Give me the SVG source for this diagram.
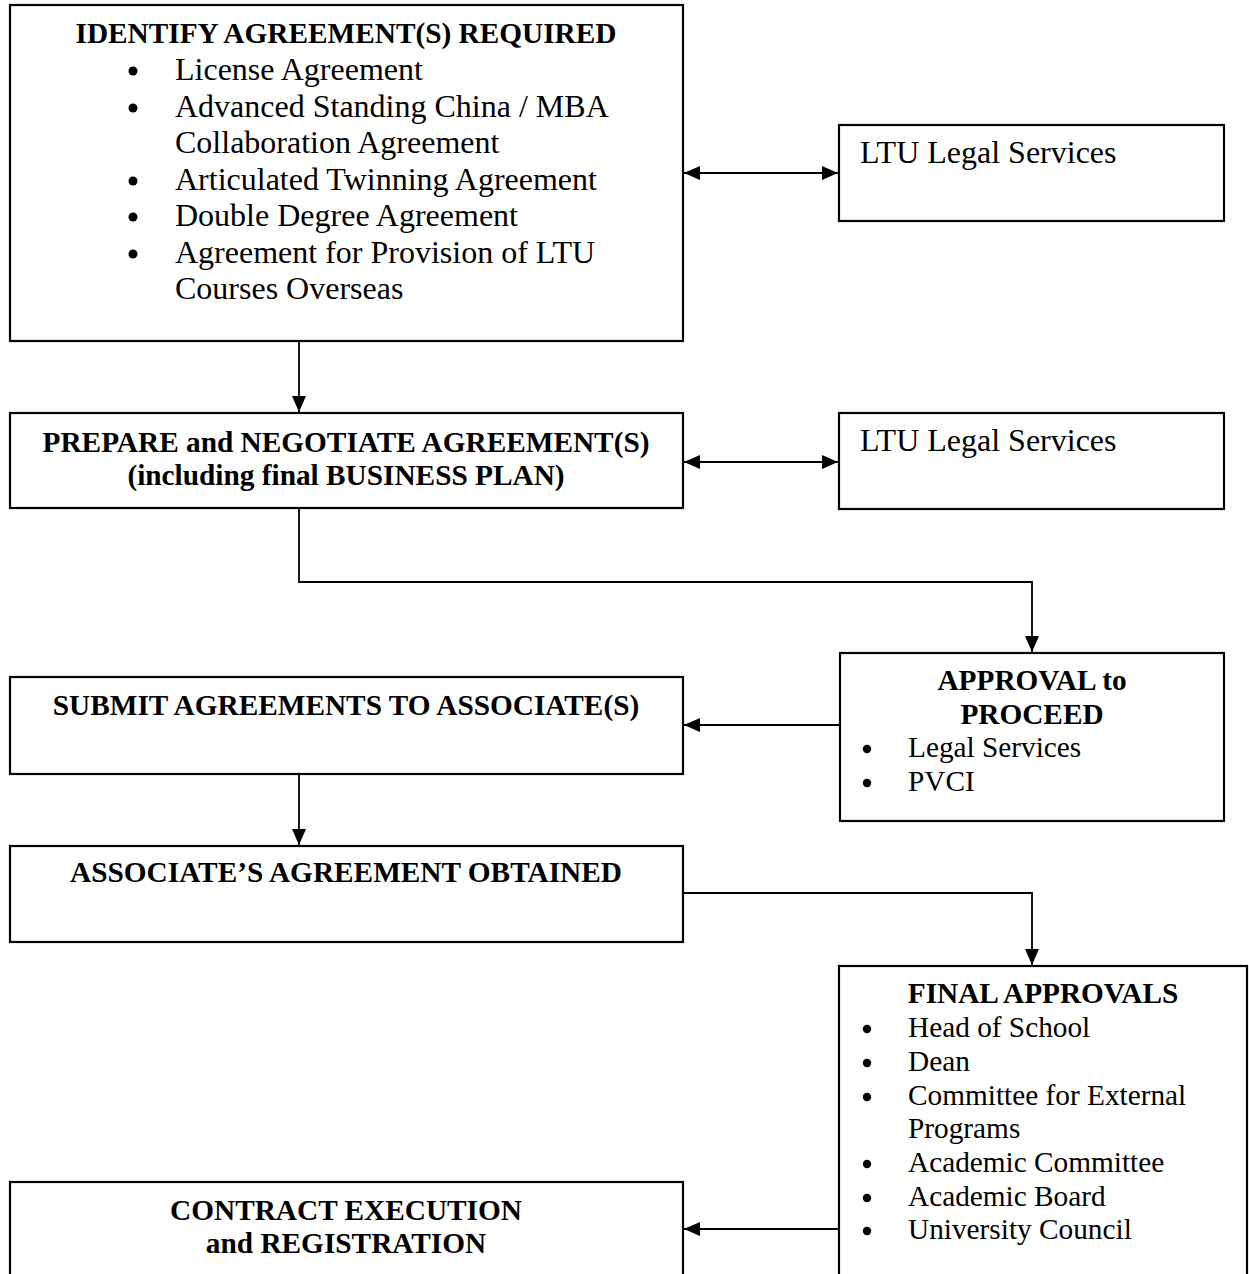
<svg xmlns="http://www.w3.org/2000/svg" width="1249" height="1274" viewBox="0 0 1249 1274">
<defs>
<marker id="ah" viewBox="0 0 16 14" refX="16" refY="7" markerWidth="16" markerHeight="14" markerUnits="userSpaceOnUse" orient="auto-start-reverse">
<path d="M0,0 L16,7 L0,14 Z" fill="#000"/>
</marker>
</defs>
<style>
rect.box{fill:#fff;stroke:#000;stroke-width:2.2}
text{font-family:"Liberation Serif","Times New Roman",serif;fill:#000}
.h{font-weight:bold;font-size:29.3px;text-anchor:middle}
.b{font-size:32px}
.s{font-size:29.3px}
circle.bul{fill:#000}
.c{fill:none;stroke:#000;stroke-width:1.8}
</style>
<rect width="1249" height="1274" fill="#fff"/>

<g id="connectors">
<line class="c" x1="684" y1="173" x2="838" y2="173" marker-start="url(#ah)" marker-end="url(#ah)"/>
<line class="c" x1="299" y1="342" x2="299" y2="412" marker-end="url(#ah)"/>
<line class="c" x1="684" y1="462" x2="838" y2="462" marker-start="url(#ah)" marker-end="url(#ah)"/>
<polyline class="c" points="299,509 299,582 1032,582 1032,652" marker-end="url(#ah)"/>
<line class="c" x1="839" y1="725" x2="684" y2="725" marker-end="url(#ah)"/>
<line class="c" x1="299" y1="775" x2="299" y2="845" marker-end="url(#ah)"/>
<polyline class="c" points="684,893 1032,893 1032,965" marker-end="url(#ah)"/>
<line class="c" x1="838" y1="1229" x2="684" y2="1229" marker-end="url(#ah)"/>
</g>

<g id="identify">
<rect class="box" x="10" y="5" width="673" height="336"/>
<text class="h" x="346" y="43">IDENTIFY AGREEMENT(S) REQUIRED</text>
<circle class="bul" cx="133" cy="71" r="4.5"/>
<circle class="bul" cx="133" cy="108" r="4.5"/>
<circle class="bul" cx="133" cy="181" r="4.5"/>
<circle class="bul" cx="133" cy="217" r="4.5"/>
<circle class="bul" cx="133" cy="254" r="4.5"/>
<g class="b">
<text x="175" y="80">License Agreement</text>
<text x="175" y="117">Advanced Standing China / MBA</text>
<text x="175" y="153">Collaboration Agreement</text>
<text x="175" y="190">Articulated Twinning Agreement</text>
<text x="175" y="226">Double Degree Agreement</text>
<text x="175" y="263">Agreement for Provision of LTU</text>
<text x="175" y="299">Courses Overseas</text>
</g>
</g>

<g id="legal1">
<rect class="box" x="839" y="125" width="385" height="96"/>
<text class="b" x="860" y="163">LTU Legal Services</text>
</g>

<g id="prepare">
<rect class="box" x="10" y="413" width="673" height="95"/>
<text class="h" x="346" y="452">PREPARE and NEGOTIATE AGREEMENT(S)</text>
<text class="h" x="346" y="485">(including final BUSINESS PLAN)</text>
</g>

<g id="legal2">
<rect class="box" x="839" y="413" width="385" height="96"/>
<text class="b" x="860" y="451">LTU Legal Services</text>
</g>

<g id="approval">
<rect class="box" x="840" y="653" width="384" height="168"/>
<text class="h" x="1032" y="690">APPROVAL to</text>
<text class="h" x="1032" y="724">PROCEED</text>
<circle class="bul" cx="867" cy="749" r="4.2"/>
<circle class="bul" cx="867" cy="783" r="4.2"/>
<g class="s">
<text x="908" y="757">Legal Services</text>
<text x="908" y="791">PVCI</text>
</g>
</g>

<g id="submit">
<rect class="box" x="10" y="677" width="673" height="97"/>
<text class="h" x="346" y="715">SUBMIT AGREEMENTS TO ASSOCIATE(S)</text>
</g>

<g id="associate">
<rect class="box" x="10" y="846" width="673" height="96"/>
<text class="h" x="346" y="882">ASSOCIATE’S AGREEMENT OBTAINED</text>
</g>

<g id="final">
<rect class="box" x="839" y="966" width="408" height="330"/>
<text class="h" x="1043" y="1003">FINAL APPROVALS</text>
<circle class="bul" cx="867" cy="1029" r="4.2"/>
<circle class="bul" cx="867" cy="1063" r="4.2"/>
<circle class="bul" cx="867" cy="1097" r="4.2"/>
<circle class="bul" cx="867" cy="1164" r="4.2"/>
<circle class="bul" cx="867" cy="1198" r="4.2"/>
<circle class="bul" cx="867" cy="1231" r="4.2"/>
<g class="s">
<text x="908" y="1037">Head of School</text>
<text x="908" y="1071">Dean</text>
<text x="908" y="1105">Committee for External</text>
<text x="908" y="1138">Programs</text>
<text x="908" y="1172">Academic Committee</text>
<text x="908" y="1206">Academic Board</text>
<text x="908" y="1239">University Council</text>
</g>
</g>

<g id="contract">
<rect class="box" x="10" y="1182" width="673" height="120"/>
<text class="h" x="346" y="1220">CONTRACT EXECUTION</text>
<text class="h" x="346" y="1253">and REGISTRATION</text>
</g>
</svg>
